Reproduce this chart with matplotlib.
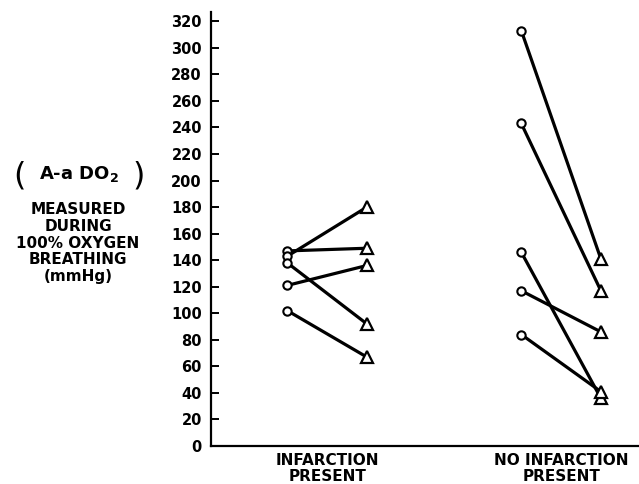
import matplotlib
matplotlib.use('Agg')
import matplotlib.pyplot as plt

#Data (mmHg)
groups = ['INFARCTION\nPRESENT', 'NO INFARCTION\nPRESENT']
infarct_before = [147, 143, 138, 121, 102]
infarct_after = [149, 180, 92, 136, 67]
noinfarct_before = [313, 243, 146, 117, 84]
noinfarct_after = [141, 117, 36, 86, 41]
yticks = list(range(0, 321, 20))

plt.rcParams['font.family'] = 'DejaVu Sans'
plt.rcParams['font.weight'] = 'bold'

fig = plt.figure(figsize=(6.39, 4.84), dpi=100)
ax = fig.add_axes([211/639, 38/484, 428/639, 434/484])

off = 0.17
pairs = [(1, infarct_before, infarct_after), (2, noinfarct_before, noinfarct_after)]
for pos, before, after in pairs:
    for b, a in zip(before, after):
        ax.plot([pos - off, pos + off], [b, a], c='black', linewidth=2.3, zorder=2)
    ax.plot([pos - off]*len(before), before, 'o', ms=6, mfc='white', mec='black', mew=1.5, zorder=3)
    ax.plot([pos + off]*len(after), after, '^', ms=8, mfc='white', mec='black', mew=1.6, zorder=3)

ax.set_xlim(0.504, 2.333)
ax.set_ylim(0, 327)
ax.set_yticks(yticks)
ax.set_yticklabels([str(t) for t in yticks], fontsize=10.5, fontweight='bold')
ax.set_xticks([1, 2])
ax.set_xticklabels(groups, fontsize=11, fontweight='bold', linespacing=1.05)
ax.tick_params(axis='y', direction='in', length=6, width=1.4, pad=6.5)
ax.tick_params(axis='x', length=0, pad=5)
ax.spines['top'].set_visible(False)
ax.spines['right'].set_visible(False)
ax.spines['left'].set_linewidth(1.6)
ax.spines['bottom'].set_linewidth(1.6)

#y label block
fig.text(19/639, 1 - 176/484, '(', fontsize=23, fontweight='normal', ha='center', va='center')
fig.text(139/639, 1 - 176/484, ')', fontsize=23, fontweight='normal', ha='center', va='center')
fig.text(79/639, 1 - 174/484, 'A-a DO$_\\mathbf{2}$', fontsize=13, fontweight='bold', ha='center', va='center')
fig.text(78/639, 1 - 243/484, 'MEASURED\nDURING\n100% OXYGEN\nBREATHING\n(mmHg)',
         fontsize=11, fontweight='bold', ha='center', va='center', linespacing=1.15)

plt.savefig('out.png', dpi=100)
